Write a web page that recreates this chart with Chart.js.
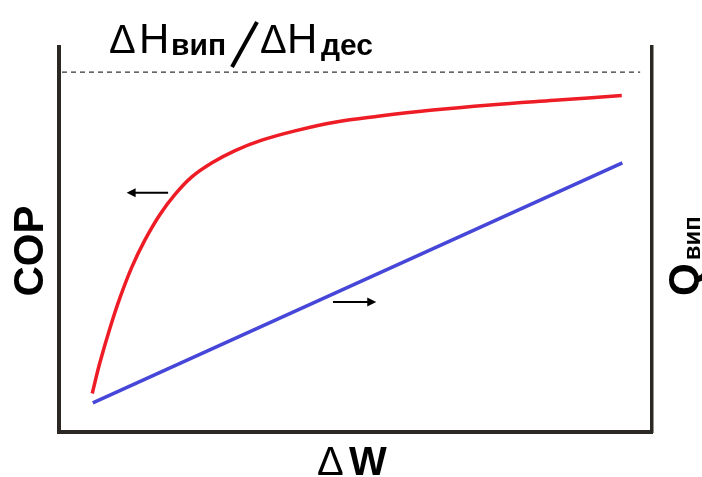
<!DOCTYPE html>
<html>
<head>
<meta charset="utf-8">
<script src="https://cdn.jsdelivr.net/npm/chart.js@4/dist/chart.umd.min.js"></script>
<style>
    html, body { margin: 0; padding: 0; background: #fff; }
    #wrap { width: 702px; height: 477px; }
</style>
</head>
<body>
<div id="wrap"><canvas id="copChart"></canvas></div>
<script>
// ΔW (x), COP (left axis) and Q_вип (right axis), arbitrary units
const copW = [5.6, 6.9, 8.6, 10.3, 12.3, 14.5, 17.0, 19.6, 22.4, 25.8, 29.7, 34.2, 39.8, 46.5, 54.1, 62.6, 72.7, 83.6, 94.9];
const copValues = [10.7, 19.3, 28.9, 37.4, 45.9, 53.4, 60.4, 66.1, 70.9, 74.8, 78.2, 81.1, 83.7, 86.1, 87.8, 89.4, 90.9, 92.2, 93.5];
const qW = [5.7, 95.0];
const qValues = [8.1, 74.8];
// limit ΔH_вип/ΔH_дес
const limitW = [0.5, 98.0];
const limitValue = 100;
// arrows: [fromX, toX, y] pointing to the axis the curve belongs to
const copArrow = [18.4, 11.4, 66.5];
const qArrow = [46.2, 53.5, 36.1];

const AXIS = "#2b2723";
const FONT = "'Liberation Sans', Arial, sans-serif";

function drawArrow(ctx, chart, a) {
    const x = chart.scales.x;
    const y = chart.scales.y;
    const x1 = x.getPixelForValue(a[0]);
    const x2 = x.getPixelForValue(a[1]);
    const py = y.getPixelForValue(a[2]);
    const dir = x2 > x1 ? 1 : -1;
    ctx.strokeStyle = "#000";
    ctx.fillStyle = "#000";
    ctx.lineWidth = 2;
    ctx.beginPath();
    ctx.moveTo(x1, py);
    ctx.lineTo(x2 - dir * 6, py);
    ctx.stroke();
    ctx.beginPath();
    ctx.moveTo(x2, py);
    ctx.lineTo(x2 - dir * 9, py - 4.5);
    ctx.lineTo(x2 - dir * 9, py + 4.5);
    ctx.closePath();
    ctx.fill();
}

const labelsPlugin = {
    id: "labels",
    afterDraw(chart) {
        const ctx = chart.ctx;
        ctx.save();
        ctx.fillStyle = "#000";
        ctx.textBaseline = "alphabetic";
        ctx.textAlign = "left";

        drawArrow(ctx, chart, copArrow);
        drawArrow(ctx, chart, qArrow);

        // title ΔH_вип / ΔH_дес
        ctx.font = "40px " + FONT;
        ctx.fillText("Δ", 109, 53);
        ctx.font = "42px " + FONT;
        ctx.fillText("H", 139, 53);
        ctx.font = "bold 30px " + FONT;
        ctx.fillText("вип", 171, 55);
        ctx.strokeStyle = "#000";
        ctx.lineWidth = 4;
        ctx.beginPath();
        ctx.moveTo(232, 67);
        ctx.lineTo(257, 22);
        ctx.stroke();
        ctx.font = "40px " + FONT;
        ctx.fillText("Δ", 260, 53);
        ctx.font = "42px " + FONT;
        ctx.fillText("H", 287, 53);
        ctx.font = "bold 30px " + FONT;
        ctx.fillText("дес", 321, 55);

        // x label ΔW
        ctx.font = "40px " + FONT;
        ctx.fillText("Δ", 317, 475);
        ctx.font = "bold 40px " + FONT;
        ctx.fillText("W", 349, 475);

        // left label COP
        ctx.save();
        ctx.translate(43, 251);
        ctx.rotate(-Math.PI / 2);
        ctx.textAlign = "center";
        ctx.font = "bold 42px " + FONT;
        ctx.fillText("COP", 0, 0);
        ctx.restore();

        // right label Q_вип
        ctx.save();
        ctx.translate(698, 296);
        ctx.rotate(-Math.PI / 2);
        ctx.font = "bold 42px " + FONT;
        ctx.fillText("Q", 0, 0);
        const qw = ctx.measureText("Q").width;
        ctx.font = "bold 24px " + FONT;
        ctx.fillText("вип", qw + 3, 2);
        ctx.restore();

        ctx.restore();
    }
};

const ctx = document.getElementById("copChart").getContext("2d");

new Chart(ctx, {
    type: "line",
    data: {
        datasets: [
            {
                label: "ΔH_вип/ΔH_дес",
                data: limitW.map((w) => ({ x: w, y: limitValue })),
                borderColor: "#333",
                borderWidth: 1.3,
                borderDash: [5, 4],
                pointRadius: 0,
                yAxisID: "y"
            },
            {
                label: "COP",
                data: copW.map((w, i) => ({ x: w, y: copValues[i] })),
                borderColor: "#ee1c25",
                borderWidth: 3.5,
                pointRadius: 0,
                tension: 0.4,
                yAxisID: "y"
            },
            {
                label: "Q_вип",
                data: qW.map((w, i) => ({ x: w, y: qValues[i] })),
                borderColor: "#4646d8",
                borderWidth: 3.5,
                pointRadius: 0,
                yAxisID: "y2"
            }
        ]
    },
    options: {
        responsive: true,
        maintainAspectRatio: false,
        animation: false,
        layout: {
            padding: { left: 59, right: 50, top: 47, bottom: 45 }
        },
        plugins: {
            legend: { display: false },
            tooltip: { enabled: false }
        },
        scales: {
            x: {
                type: "linear",
                min: 0,
                max: 100,
                grid: { display: false, drawTicks: false },
                ticks: { display: false },
                border: { display: true, color: AXIS, width: 4 }
            },
            y: {
                position: "left",
                min: 0,
                max: 107,
                grid: { display: false, drawTicks: false },
                ticks: { display: false },
                border: { display: true, color: AXIS, width: 4 }
            },
            y2: {
                position: "right",
                min: 0,
                max: 107,
                grid: { display: false, drawTicks: false },
                ticks: { display: false },
                border: { display: true, color: AXIS, width: 3.5 }
            }
        }
    },
    plugins: [labelsPlugin]
});
</script>
</body>
</html>
